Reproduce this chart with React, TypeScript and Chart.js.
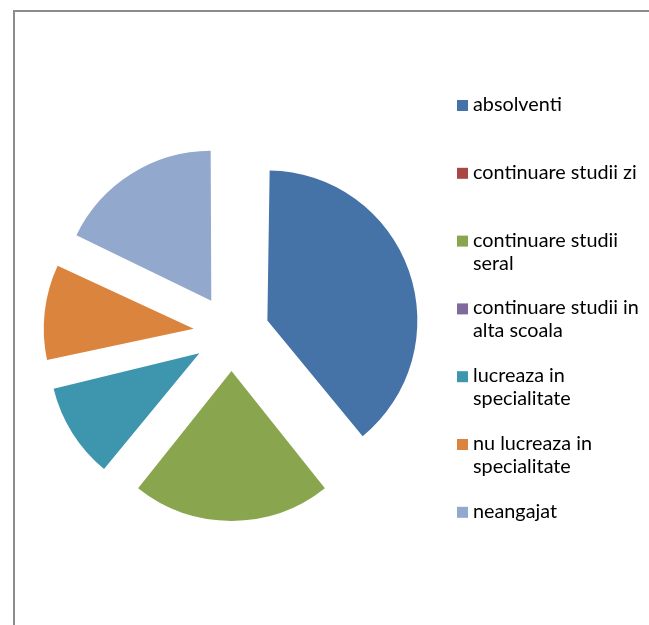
import React, { useEffect, useRef } from "react";
import { Chart, registerables } from "chart.js";

Chart.register(...registerables);

const CATEGORIES = [
  "absolventi",
  "continuare studii zi",
  "continuare studii seral",
  "continuare studii in alta scoala",
  "lucreaza in specialitate",
  "nu lucreaza in specialitate",
  "neangajat",
];
const VALUES = [22, 0, 12, 0, 6, 6, 10];
const COLORS = ["#4572A7", "#AA4643", "#89A54E", "#80699B", "#3D96AE", "#DB843D", "#92A8CD"];

const EXPLODE = 38;
const FONT_FAMILY = "Lato";
const FONT_SIZE = 19.8;

// Chart.js grows narrow exploded arcs' radius by offset/4 * (1 - sin(circ)); undo that so all slices share one radius
const equalRadiusPlugin = {
  id: "equalRadius",
  beforeDatasetsDraw(chart: any) {
    const meta = chart.getDatasetMeta(0);
    const base = meta.controller.outerRadius;
    meta.data.forEach((arc: any) => {
      const circ = arc.endAngle - arc.startAngle;
      const off = (arc.options.offset || 0) / 4;
      const fix = 1 - Math.sin(Math.min(Math.PI, circ || 0));
      arc.outerRadius = base - off * fix;
    });
  },
};

const legendPlugin = {
  id: "excelLegend",
  afterDraw(chart: any) {
    const ctx = chart.ctx;
    const area = chart.chartArea;
    const ds = chart.data.datasets[0];
    const labels: string[] = chart.data.labels;
    const boxX = area.right - 6;
    const textX = boxX + 16;
    const top = 100;
    const step = 67.8;
    const maxW = 172;
    ctx.save();
    ctx.font = `${FONT_SIZE}px "${FONT_FAMILY}"`;
    ctx.textBaseline = "alphabetic";
    ctx.textAlign = "left";
    labels.forEach((lab, i) => {
      const y = top + i * step;
      ctx.fillStyle = ds.backgroundColor[i];
      ctx.fillRect(boxX, y, 11, 11);
      const words = lab.split(" ");
      const lines: string[] = [];
      let cur = "";
      words.forEach((w) => {
        const t = cur ? cur + " " + w : w;
        if (cur && ctx.measureText(t).width > maxW) {
          lines.push(cur);
          cur = w;
        } else cur = t;
      });
      if (cur) lines.push(cur);
      ctx.fillStyle = "#000";
      lines.forEach((ln, j) => ctx.fillText(ln, textX, y + 11 + j * 23));
    });
    ctx.restore();
  },
};

export default function App() {
  const ref = useRef<HTMLCanvasElement>(null);
  useEffect(() => {
    if (!ref.current) return;
    const chart = new Chart(ref.current, {
      type: "pie",
      data: {
        labels: CATEGORIES,
        datasets: [
          {
            data: VALUES,
            backgroundColor: COLORS,
            borderWidth: 0,
            radius: 150,
            offset: 4 * EXPLODE,
          } as any,
        ],
      },
      options: {
        responsive: false,
        animation: false,
        layout: { padding: { left: 0, right: 186, top: 41, bottom: 0 } },
        plugins: { legend: { display: false }, tooltip: { enabled: false } },
      },
      plugins: [equalRadiusPlugin, legendPlugin],
    });
    return () => chart.destroy();
  }, []);
  return (
    <div style={{ position: "fixed", left: 0, top: 0, width: 649, height: 625, overflow: "hidden", background: "#fff" }}>
      <div
        style={{
          position: "absolute",
          left: 13,
          top: 10,
          width: 700,
          height: 700,
          borderLeft: "2px solid #8c8c8c",
          borderTop: "2px solid #8c8c8c",
        }}
      />
      <canvas ref={ref} width={649} height={625} style={{ position: "absolute", left: 0, top: 0 }} />
    </div>
  );
}
